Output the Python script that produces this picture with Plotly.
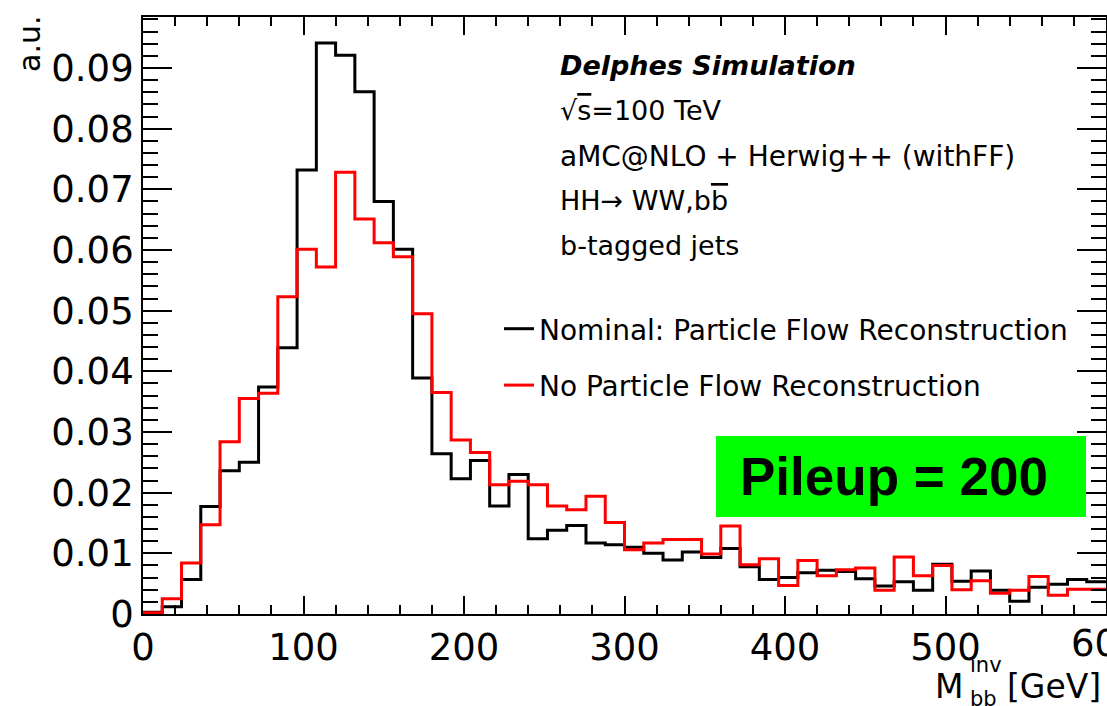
import plotly.graph_objects as go

# ---------------- data ----------------
BIN_WIDTH = 12  # GeV
bin_edges = [BIN_WIDTH * k for k in range(51)]  # 0 .. 600 GeV

nominal_pf = [0.0003, 0.0012, 0.0057, 0.0177, 0.0236, 0.0250, 0.0374, 0.0439, 0.0732, 0.0941,
              0.0921, 0.0861, 0.0680, 0.0601, 0.0389, 0.0264, 0.0223, 0.0253, 0.0178, 0.0230,
              0.0124, 0.0138, 0.0146, 0.0117, 0.0114, 0.0110, 0.0100, 0.0089, 0.0102, 0.0093,
              0.0108, 0.0078, 0.0057, 0.0060, 0.0068, 0.0072, 0.0070, 0.0058, 0.0046, 0.0053,
              0.0039, 0.0082, 0.0054, 0.0071, 0.0039, 0.0021, 0.0044, 0.0049, 0.0057, 0.0053]

no_pf = [0.0002, 0.0025, 0.0084, 0.0147, 0.0284, 0.0355, 0.0364, 0.0523, 0.0601, 0.0572,
         0.0728, 0.0651, 0.0612, 0.0589, 0.0495, 0.0365, 0.0287, 0.0266, 0.0213, 0.0219,
         0.0213, 0.0178, 0.0172, 0.0194, 0.0151, 0.0106, 0.0117, 0.0123, 0.0123, 0.0099,
         0.0145, 0.0081, 0.0091, 0.0047, 0.0088, 0.0063, 0.0073, 0.0076, 0.0039, 0.0094,
         0.0063, 0.0080, 0.0040, 0.0055, 0.0034, 0.0039, 0.0062, 0.0031, 0.0041, 0.0041]

series_names = ["Nominal: Particle Flow Reconstruction", "No Particle Flow Reconstruction"]
series_colors = ["#000000", "#ff0000"]

x_tick_vals = [0, 100, 200, 300, 400, 500, 600]
x_edge_tick = 600
y_tick_vals = [0, 0.01, 0.02, 0.03, 0.04, 0.05, 0.06, 0.07, 0.08, 0.09]
y_tick_text = ["0", "0.01", "0.02", "0.03", "0.04", "0.05", "0.06", "0.07", "0.08", "0.09"]

info_lines = [
    "<b><i>Delphes Simulation</i></b>",
    "\u221a<span style='text-decoration:overline'>s</span>=100 TeV",
    "aMC@NLO + Herwig++ (withFF)",
    "HH\u2192 WW,b<span style='text-decoration:overline'>b</span>",
    "b-tagged jets",
]

# ---------------- layout geometry (pixels) ----------------
W, H = 1107, 706
PL, PR, PT, PB = 143, 1106, 17, 614
FONT = "DejaVu Sans"


def fx(xp):
    return (xp - PL) / (PR - PL)


def fy(yp):
    return (PB - yp) / (PB - PT)


fig = go.Figure()
for vals, name, col in zip([nominal_pf, no_pf], series_names, series_colors):
    fig.add_trace(go.Scatter(
        x=bin_edges,
        y=vals + [vals[-1]],
        mode="lines",
        line=dict(color=col, width=3, shape="hv"),
        name=name,
        legendgroup=name,
        hoverinfo="skip",
    ))

axis_common = dict(
    showline=True, linecolor="black", linewidth=1.8, mirror="ticks",
    ticks="inside", tickcolor="black", tickwidth=1.5,
    showgrid=False, zeroline=False, automargin=False,
    tickfont=dict(family=FONT, size=37, color="black"),
)

fig.update_xaxes(
    range=[0, 600], tickvals=x_tick_vals, ticklen=18,
    minor=dict(dtick=20, ticklen=9, tickwidth=1.5, tickcolor="black", ticks="inside", showgrid=False),
    **axis_common,
)
fig.update_yaxes(
    range=[0, 0.0984], tickvals=y_tick_vals, ticktext=y_tick_text, ticklen=29,
    minor=dict(dtick=0.002, ticklen=15, tickwidth=1.5, tickcolor="black", ticks="inside", showgrid=False),
    **axis_common,
)

annotations = []
# info text block
info_centres = [66, 110, 156, 200, 245]
info_sizes = [27, 27, 28, 27, 27]
for txt, yc, fs in zip(info_lines, info_centres, info_sizes):
    annotations.append(dict(
        text=txt, xref="paper", yref="paper", x=fx(558), y=fy(yc),
        xanchor="left", yanchor="middle", showarrow=False,
        font=dict(family=FONT, size=fs, color="black"),
    ))

# tick label at the right edge of the axis (cut by the page edge as in the reference)
annotations.append(dict(
    text=str(x_edge_tick), xref="x", yref="paper", x=x_edge_tick, y=fy(643),
    xanchor="center", yanchor="middle", showarrow=False,
    font=dict(family=FONT, size=37, color="black"),
))

# y axis title
annotations.append(dict(
    text="a.u.", xref="paper", yref="paper", x=fx(30), y=fy(44), textangle=-90,
    xanchor="center", yanchor="middle", showarrow=False,
    font=dict(family=FONT, size=30, color="black"),
))

# x axis title: M^{inv}_{bb} [GeV]
annotations += [
    dict(text="M", xref="paper", yref="paper", x=fx(934), y=fy(686), xanchor="left", yanchor="middle",
         showarrow=False, borderpad=0, font=dict(family=FONT, size=33, color="black")),
    dict(text="inv", xref="paper", yref="paper", x=fx(969), y=fy(665), xanchor="left", yanchor="middle",
         showarrow=False, borderpad=0, font=dict(family=FONT, size=21, color="black")),
    dict(text="bb", xref="paper", yref="paper", x=fx(969), y=fy(699), xanchor="left", yanchor="middle",
         showarrow=False, borderpad=0, font=dict(family=FONT, size=21, color="black")),
    dict(text="[GeV]", xref="paper", yref="paper", x=fx(1006), y=fy(686), xanchor="left", yanchor="middle",
         showarrow=False, borderpad=0, font=dict(family=FONT, size=33, color="black")),
]

# Pileup label
annotations.append(dict(
    text="<b>Pileup = 200</b>", xref="paper", yref="paper", x=fx(894), y=fy(477),
    xanchor="center", yanchor="middle", showarrow=False,
    font=dict(family="Liberation Sans", size=53, color="black"),
))

shapes = [dict(
    type="rect", xref="paper", yref="paper",
    x0=fx(716), x1=fx(1086), y0=fy(517), y1=fy(436),
    fillcolor="#00ff00", line=dict(width=0), layer="above",
)]

fig.update_layout(
    width=W, height=H, autosize=False,
    margin=dict(l=PL, r=W - PR, t=PT, b=H - PB, autoexpand=False),
    paper_bgcolor="white", plot_bgcolor="white",
    showlegend=True,
    legend=dict(
        x=fx(499), y=fy(304), xanchor="left", yanchor="top",
        font=dict(family=FONT, size=28, color="black"),
        bgcolor="rgba(0,0,0,0)", borderwidth=0,
        traceorder="grouped", tracegroupgap=17, itemwidth=30,
    ),
    annotations=annotations,
    shapes=shapes,
)

fig.write_html("out.html")
